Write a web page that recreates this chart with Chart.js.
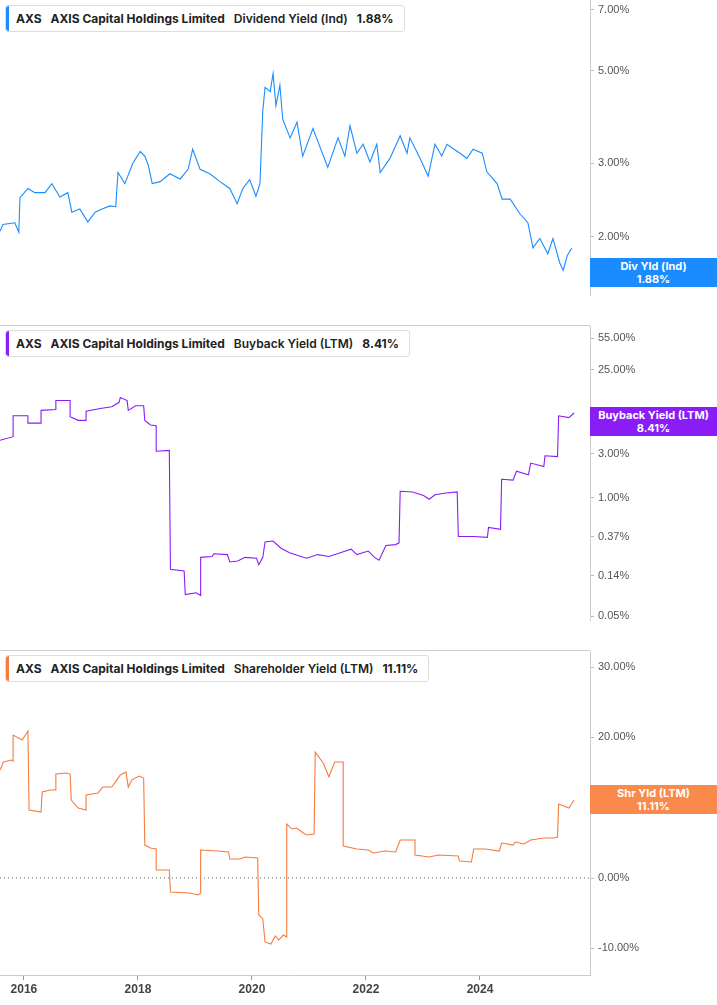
<!DOCTYPE html>
<html><head><meta charset="utf-8">
<script src="https://cdn.jsdelivr.net/npm/chart.js@4"></script>
<style>
body{margin:0;width:717px;height:1005px;background:#fff;position:relative;overflow:hidden;font-family:Inter,"Open Sans",sans-serif}
.pan{position:absolute;left:0;width:717px}
.leg{position:absolute;left:5px;background:#fff;border:1px solid #ddd;border-radius:3px;font-size:12px;font-weight:700;color:#222;padding:5px 10px 5px 10px;white-space:nowrap}
.leg:before{content:"";position:absolute;left:0;top:0;bottom:0;width:3px;border-radius:3px 0 0 3px;background:var(--c)}
.leg span{margin-right:9px}
.tag{position:absolute;left:590px;width:127px;height:29px;color:#fff;font-size:11px;font-weight:700;text-align:center;line-height:13px;padding-top:2px;box-sizing:border-box}
.sep{position:absolute;left:0;width:590px;height:1px;background:#ccc}
</style></head><body>
<div class="pan" style="top:0;height:325px"><canvas id="c1"></canvas></div>
<div class="pan" style="top:326px;height:324px"><canvas id="c2"></canvas></div>
<div class="pan" style="top:651px;height:354px"><canvas id="c3"></canvas></div>
<div class="sep" style="top:325px"></div><div class="sep" style="top:650px"></div>
<div class="leg" style="top:5px;--c:#1a8cff"><span>AXS</span><span>AXIS Capital Holdings Limited</span><span style="font-weight:600">Dividend Yield (Ind)</span>1.88%</div>
<div class="leg" style="top:330px;--c:#8a1cf5"><span>AXS</span><span>AXIS Capital Holdings Limited</span><span style="font-weight:600">Buyback Yield (LTM)</span>8.41%</div>
<div class="leg" style="top:655px;--c:#f77b3c"><span>AXS</span><span>AXIS Capital Holdings Limited</span><span style="font-weight:600">Shareholder Yield (LTM)</span>11.11%</div>
<div class="tag" style="top:258px;background:#1a8cff">Div Yld (Ind)<br>1.88%</div>
<div class="tag" style="top:407px;background:#8a1cf5">Buyback Yield (LTM)<br>8.41%</div>
<div class="tag" style="top:785px;background:#f98a4b">Shr Yld (LTM)<br>11.11%</div>
<script>
const divYears=[2015.58,2015.63,2015.84,2015.91,2015.93,2016.07,2016.19,2016.37,2016.49,2016.63,2016.77,2016.84,2016.98,2017.12,2017.25,2017.37,2017.51,2017.61,2017.65,2017.77,2017.91,2018.04,2018.12,2018.18,2018.25,2018.39,2018.56,2018.74,2018.88,2018.96,2019.09,2019.26,2019.44,2019.61,2019.74,2019.84,2019.96,2020.07,2020.14,2020.19,2020.23,2020.32,2020.37,2020.42,2020.49,2020.54,2020.67,2020.79,2020.89,2021.07,2021.33,2021.51,2021.63,2021.72,2021.84,2021.95,2022.07,2022.19,2022.25,2022.42,2022.60,2022.72,2022.77,2022.95,2023.09,2023.21,2023.33,2023.42,2023.65,2023.77,2023.88,2024.04,2024.12,2024.30,2024.39,2024.53,2024.70,2024.84,2024.93,2025.05,2025.19,2025.28,2025.40,2025.46,2025.53,2025.61];
const divValues=[2.06,2.14,2.16,2.05,2.48,2.61,2.55,2.55,2.68,2.49,2.55,2.29,2.33,2.17,2.29,2.33,2.37,2.36,2.85,2.68,3.0,3.20,3.12,2.97,2.68,2.71,2.83,2.75,2.90,3.24,2.90,2.83,2.71,2.61,2.40,2.61,2.74,2.50,2.68,4.0,4.56,4.45,4.92,4.12,4.61,3.82,3.45,3.76,3.12,3.63,2.93,3.45,3.12,3.69,3.17,3.33,3.02,3.33,2.85,3.08,3.49,3.17,3.45,3.08,2.79,3.33,3.12,3.33,3.17,3.08,3.24,3.17,2.86,2.68,2.46,2.46,2.27,2.16,1.88,1.98,1.82,1.98,1.73,1.66,1.80,1.88];
const bbYears=[2015.58,2015.81,2015.81,2016.07,2016.07,2016.30,2016.30,2016.56,2016.56,2016.81,2016.81,2016.95,2017.09,2017.09,2017.34,2017.54,2017.67,2017.69,2017.81,2017.83,2017.96,2018.10,2018.12,2018.22,2018.32,2018.32,2018.55,2018.57,2018.81,2018.83,2019.02,2019.10,2019.10,2019.30,2019.33,2019.57,2019.61,2019.75,2019.88,2020.08,2020.12,2020.19,2020.23,2020.37,2020.51,2020.66,2020.86,2020.96,2021.15,2021.35,2021.55,2021.74,2021.84,2022.04,2022.15,2022.23,2022.35,2022.52,2022.58,2022.60,2022.82,2023.01,2023.11,2023.21,2023.40,2023.60,2023.62,2023.89,2024.13,2024.15,2024.36,2024.38,2024.58,2024.64,2024.85,2024.89,2025.12,2025.14,2025.36,2025.38,2025.56,2025.65];
const bbValues=[4.22,4.63,7.83,7.83,6.52,6.52,8.98,9.19,11.5,11.5,7.65,6.98,6.98,8.78,9.40,9.84,11.0,12.4,11.5,8.98,10.1,10.1,6.98,6.22,6.09,3.21,3.28,0.164,0.157,0.0865,0.0906,0.0847,0.221,0.226,0.242,0.237,0.197,0.202,0.221,0.216,0.184,0.221,0.326,0.334,0.278,0.248,0.226,0.216,0.237,0.226,0.248,0.272,0.237,0.259,0.221,0.206,0.298,0.305,0.319,1.17,1.15,1.05,0.955,1.07,1.12,1.15,0.374,0.374,0.366,0.470,0.449,1.58,1.55,1.94,1.77,2.38,2.18,2.86,2.80,7.83,7.48,8.41];
const shYears=[2015.58,2015.64,2015.78,2015.81,2015.81,2015.97,2016.07,2016.09,2016.30,2016.32,2016.46,2016.56,2016.56,2016.75,2016.81,2016.83,2016.95,2017.09,2017.09,2017.30,2017.38,2017.54,2017.59,2017.69,2017.79,2017.83,2017.89,2018.02,2018.10,2018.12,2018.22,2018.32,2018.32,2018.55,2018.57,2018.90,2019.06,2019.10,2019.10,2019.39,2019.59,2019.61,2019.79,2019.88,2020.10,2020.12,2020.19,2020.23,2020.33,2020.41,2020.47,2020.55,2020.61,2020.61,2020.70,2020.78,2020.90,2020.96,2021.09,2021.11,2021.25,2021.35,2021.45,2021.55,2021.60,2021.60,2021.84,2022.04,2022.13,2022.33,2022.52,2022.60,2022.86,2022.86,2023.11,2023.27,2023.62,2023.64,2023.85,2023.89,2024.09,2024.34,2024.38,2024.58,2024.62,2024.77,2024.89,2025.12,2025.30,2025.36,2025.38,2025.56,2025.65];
const shValues=[15.36,16.5,16.79,16.64,20.34,19.63,20.91,9.67,9.39,12.23,12.52,12.52,14.79,14.94,14.79,11.10,9.96,9.67,11.81,12.09,12.94,12.94,13.51,14.65,15.08,12.94,13.94,14.51,14.22,4.69,4.27,4.13,1.14,1.14,-1.99,-2.13,-2.42,-2.13,3.98,3.84,3.70,2.70,2.70,2.99,2.84,-5.26,-5.83,-9.10,-9.39,-8.25,-8.82,-8.11,-8.39,7.68,6.97,7.11,6.40,6.12,6.26,17.92,16.36,14.37,16.5,16.5,16.5,4.55,4.13,3.98,3.56,3.84,3.70,5.41,5.41,3.27,2.99,3.27,3.13,2.42,2.28,4.13,4.13,3.84,4.98,4.69,5.12,4.84,5.41,5.69,5.69,5.83,10.53,9.96,11.11];
const divTicks=[2,3,5,7];
const bbTicks=[0.05,0.14,0.37,1,3,25,55];
const shTicks=[-10,0,10,20,30];
const yearTicks=[2016,2018,2020,2022,2024];
const X0=2015.58,X1=2025.93;

function pts(xs,ys){const n=Math.min(xs.length,ys.length);const a=[];for(let i=0;i<n;i++)a.push({x:xs[i],y:ys[i]});return a;}
function mk(id,xs,ys,color,ytype,ymin,ymax,yt,showX,zeroLine){
  const plugins=[];
  if(zeroLine)plugins.push({id:'z',beforeDatasetsDraw(c){const y=c.scales.y.getPixelForValue(0);const g=c.ctx;g.save();g.strokeStyle='#666';g.setLineDash([1,3]);g.beginPath();g.moveTo(c.chartArea.left,y);g.lineTo(c.chartArea.right,y);g.stroke();g.restore();}});
  new Chart(document.getElementById(id),{type:'line',
    data:{datasets:[{data:pts(xs,ys),borderColor:color,borderWidth:1.1,pointRadius:0,tension:0}]},
    options:{responsive:true,maintainAspectRatio:false,animation:false,layout:{padding:0,autoPadding:false},
      plugins:{legend:{display:false},tooltip:{enabled:false}},
      scales:{
        x:{type:'linear',min:X0,max:X1,display:showX,
          afterBuildTicks(s){s.ticks=yearTicks.map(v=>({value:v}));},
          afterFit(s){s.height=30;s.paddingLeft=0;s.paddingRight=0;},
          grid:{drawOnChartArea:false,tickLength:5,color:'#999'},border:{color:'#ccc'},
          ticks:{callback:v=>String(v),color:'#444',font:{size:12,weight:'600'},padding:2,maxRotation:0}},
        y:{type:ytype,position:'right',min:ymin,max:ymax,
          afterBuildTicks(s){s.ticks=yt.map(v=>({value:v}));},
          afterFit(s){s.width=127;s.paddingTop=0;s.paddingBottom=0;},
          grid:{drawOnChartArea:false,tickLength:4,color:'#bbb'},border:{color:'#ccc'},
          ticks:{callback:v=>Number(v).toFixed(2)+'%',color:'#555',font:{size:11},padding:4}}
      }},plugins});
}
mk('c1',divYears,divValues,'#1a8cff','logarithmic',1.45,7.38,divTicks,false,false);
mk('c2',bbYears,bbValues,'#8a1cf5','logarithmic',0.0456,75.3,bbTicks,false,false);
mk('c3',shYears,shValues,'#f77b3c','linear',-13.8,32.3,shTicks,true,true);
</script></body></html>
